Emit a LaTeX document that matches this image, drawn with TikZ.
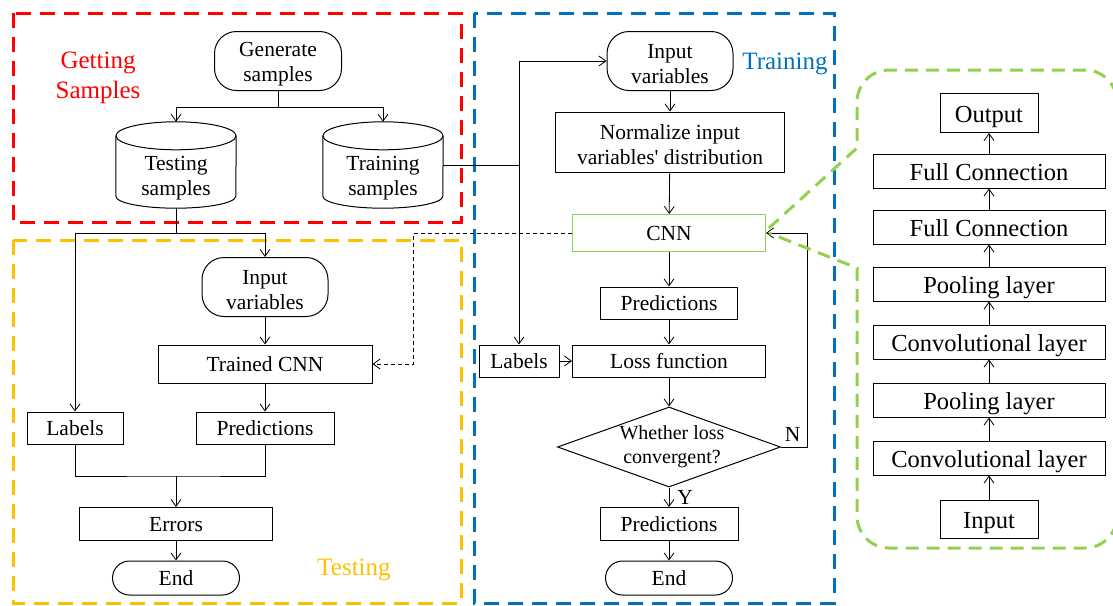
\documentclass[tikz,border=0pt]{standalone}
\usepackage{fontspec}
\setmainfont{Liberation Serif}
\usetikzlibrary{arrows.meta,shapes.geometric,calc}
\definecolor{cred}{RGB}{255,0,0}
\definecolor{cblue}{RGB}{0,112,192}
\definecolor{cyel}{RGB}{255,192,0}
\definecolor{cgreen}{RGB}{146,208,80}
\newcommand\mainfs{\fontsize{21.5}{25}\selectfont}
\newcommand\stackfs{\fontsize{24.5}{28}\selectfont}
\newcommand\titlefs{\fontsize{25}{30}\selectfont}
\newcommand\hstrut{\rule{0pt}{20pt}}
\tikzset{
  >={Straight Barb[length=7pt,width=10pt]},
  line/.style={line width=0.8pt},
  conn/.style={line width=0.8pt,->},
  box/.style={draw,line width=1pt,inner sep=0pt,align=center,font=\mainfs},
  one/.style={text height=20.5pt,text depth=5pt},
  sz/.style 2 args={minimum width=#1pt,minimum height=#2pt},
  rbox/.style={box,rounded corners=22pt},
  ebox/.style={box,one,rounded corners=17pt},
  sbox/.style={box,font=\stackfs,text height=24pt,text depth=6pt},
  cylbox/.style={inner sep=0pt,minimum width=120pt,minimum height=86pt},
  txt/.style={inner sep=0pt,align=center,font=\mainfs},
  area/.style={line width=3pt,dash pattern=on 15pt off 9pt},
  gdash/.style={line width=3pt,dash pattern=on 13pt off 8pt,cgreen,rounded corners=0pt},
}
\begin{document}
\begin{tikzpicture}[x=1pt,y=-1pt]
\useasboundingbox (0,0) rectangle (1113,605);
% group frames
\draw[area,cred] (13,13) rectangle (461,222);
\draw[area,cyel] (13,240) rectangle (461,603);
\draw[area,cblue] (474,13) rectangle (834,603);
\node[txt,text=cred,font=\titlefs] (tgs) at (98,78) {Getting\\Samples};
\node[txt,text=cblue,font=\titlefs] (ttr) at (785,64) {Training};
\node[txt,text=cyel,font=\titlefs] (tte) at (354,570) {Testing};

% Getting samples
\node[rbox,sz={127}{59}] (gen) at (278,61) {\hstrut Generate\\samples};
\node[cylbox] (ts) at (176,165) {};
\node[cylbox] (tr) at (383,165) {};
\foreach \n in {ts,tr}{
  \draw[line width=1pt] ($(\n.north)+(0,14)$) ellipse [x radius=60pt,y radius=14pt];
  \draw[line width=1pt] ($(\n.north west)+(0,14)$) -- ($(\n.south west)+(0,-12)$)
     arc[start angle=180,end angle=360,x radius=60pt,y radius=12pt]
     -- ($(\n.north east)+(0,14)$);
}
\node[txt] (tst) at ($(ts.center)+(0,13)$) {Testing\\samples};
\node[txt] (trt) at ($(tr.center)+(0,13)$) {Training\\samples};
\draw[conn] (gen.south) -- ++(0,16) -| (ts.north);
\draw[conn] (gen.south) -- ++(0,16) -| (tr.north);

% Testing
\node[rbox,sz={126}{59}] (iv1) at (265,287) {\hstrut Input\\variables};
\node[box,one,sz={214}{38}] (tcnn) at (265,364) {Trained CNN};
\node[box,one,sz={96}{32}] (lab1) at (75,428) {Labels};
\node[box,one,sz={138}{32}] (pred1) at (265,428) {Predictions};
\node[box,one,sz={193}{33}] (err) at (176,524) {Errors};
\node[ebox,sz={127}{34}] (end1) at (176,578) {End};
\coordinate (m1) at (176,476);
\draw[conn] (ts.south) -- ++(0,25) -| (lab1.north);
\draw[conn] (ts.south) -- ++(0,25) -| (iv1.north);
\draw[conn] (iv1) -- (tcnn);
\draw[conn] (tcnn) -- (pred1);
\draw[line] (lab1.south) |- (m1) -| (pred1.south);
\draw[conn] (m1) -- (err.north);
\draw[conn] (err) -- (end1);

% Training
\node[rbox,sz={126}{59}] (iv2) at (670,61) {\hstrut Input\\variables};
\node[box,sz={229}{60}] (norm) at (670,142) {\hstrut Normalize input\\variables\textquotesingle{} distribution};
\node[box,one,sz={193}{37},draw=cgreen] (cnn) at (669,233) {CNN};
\node[box,one,sz={137}{32}] (pred2) at (669,303) {Predictions};
\node[box,one,sz={80}{32}] (lab2) at (519,361) {Labels};
\node[box,one,sz={193}{32}] (loss) at (669,361) {Loss function};
\node[draw,diamond,line width=1pt,inner sep=0pt,sz={223}{80}] (dia) at (669,447) {};
\node[txt,font=\fontsize{20}{24}\selectfont] (diat) at (672,447) {Whether loss\\convergent?};
\node[box,one,sz={138}{33}] (pred3) at (669,524) {Predictions};
\node[ebox,sz={127}{34}] (end2) at (669,578) {End};
\coordinate (j1) at (519,165);
\draw[line] (tr.east) -- (j1);
\draw[conn] (j1) |- (iv2.west);
\draw[conn] (j1) -- (lab2.north);
\draw[conn] (iv2) -- (norm);
\draw[conn] (norm) -- (cnn);
\draw[conn] (cnn) -- (pred2);
\draw[conn] (pred2) -- (loss);
\draw[conn] (lab2) -- (loss);
\draw[conn] (loss) -- (dia);
\draw[conn] (dia.south) -- (pred3.north) node[txt,pos=0.5,right=8pt] (ylab) {Y};
\draw[conn] (pred3) -- (end2);
\draw[conn] (dia.east) -- ++(26,0) node[txt,pos=0.45,above=5pt] (nlab) {N} |- (cnn.east);
\draw[line width=0.8pt,dash pattern=on 4pt off 3pt,->] (cnn.west) -| ($(tcnn.east)+(41,0)$) -- (tcnn.east);

% CNN structure
\node[sbox,sz={98}{39}] (out) at (989,113) {Output};
\node[sbox,sz={232}{34}] (fc1) at (989,171) {Full Connection};
\node[sbox,sz={232}{34}] (fc2) at (989,227) {Full Connection};
\node[sbox,sz={232}{34}] (po1) at (989,284) {Pooling layer};
\node[sbox,sz={232}{34}] (co1) at (989,342) {Convolutional layer};
\node[sbox,sz={232}{34}] (po2) at (989,400) {Pooling layer};
\node[sbox,sz={232}{34}] (co2) at (989,458) {Convolutional layer};
\node[sbox,sz={98}{38}] (inp) at (989,519) {Input};
\draw[conn] (inp) -- (co2);
\draw[conn] (co2) -- (po2);
\draw[conn] (po2) -- (co1);
\draw[conn] (co1) -- (po1);
\draw[conn] (po1) -- (fc2);
\draw[conn] (fc2) -- (fc1);
\draw[conn] (fc1) -- (out);

% callout frame
\coordinate (c1) at ($(cnn.east)+(3,-5)$);
\coordinate (c2) at ($(cnn.east)+(3,0)$);
\draw[gdash] (c1) -- (857,148) -- (857,102) arc[start angle=180,end angle=90,radius=32pt]
  -- (1085,70) arc[start angle=90,end angle=0,radius=32pt]
  -- (1117,516) arc[start angle=0,end angle=-90,radius=32pt]
  -- (889,548) arc[start angle=270,end angle=180,radius=32pt]
  -- (857,268) -- (c2);
\end{tikzpicture}
\end{document}
